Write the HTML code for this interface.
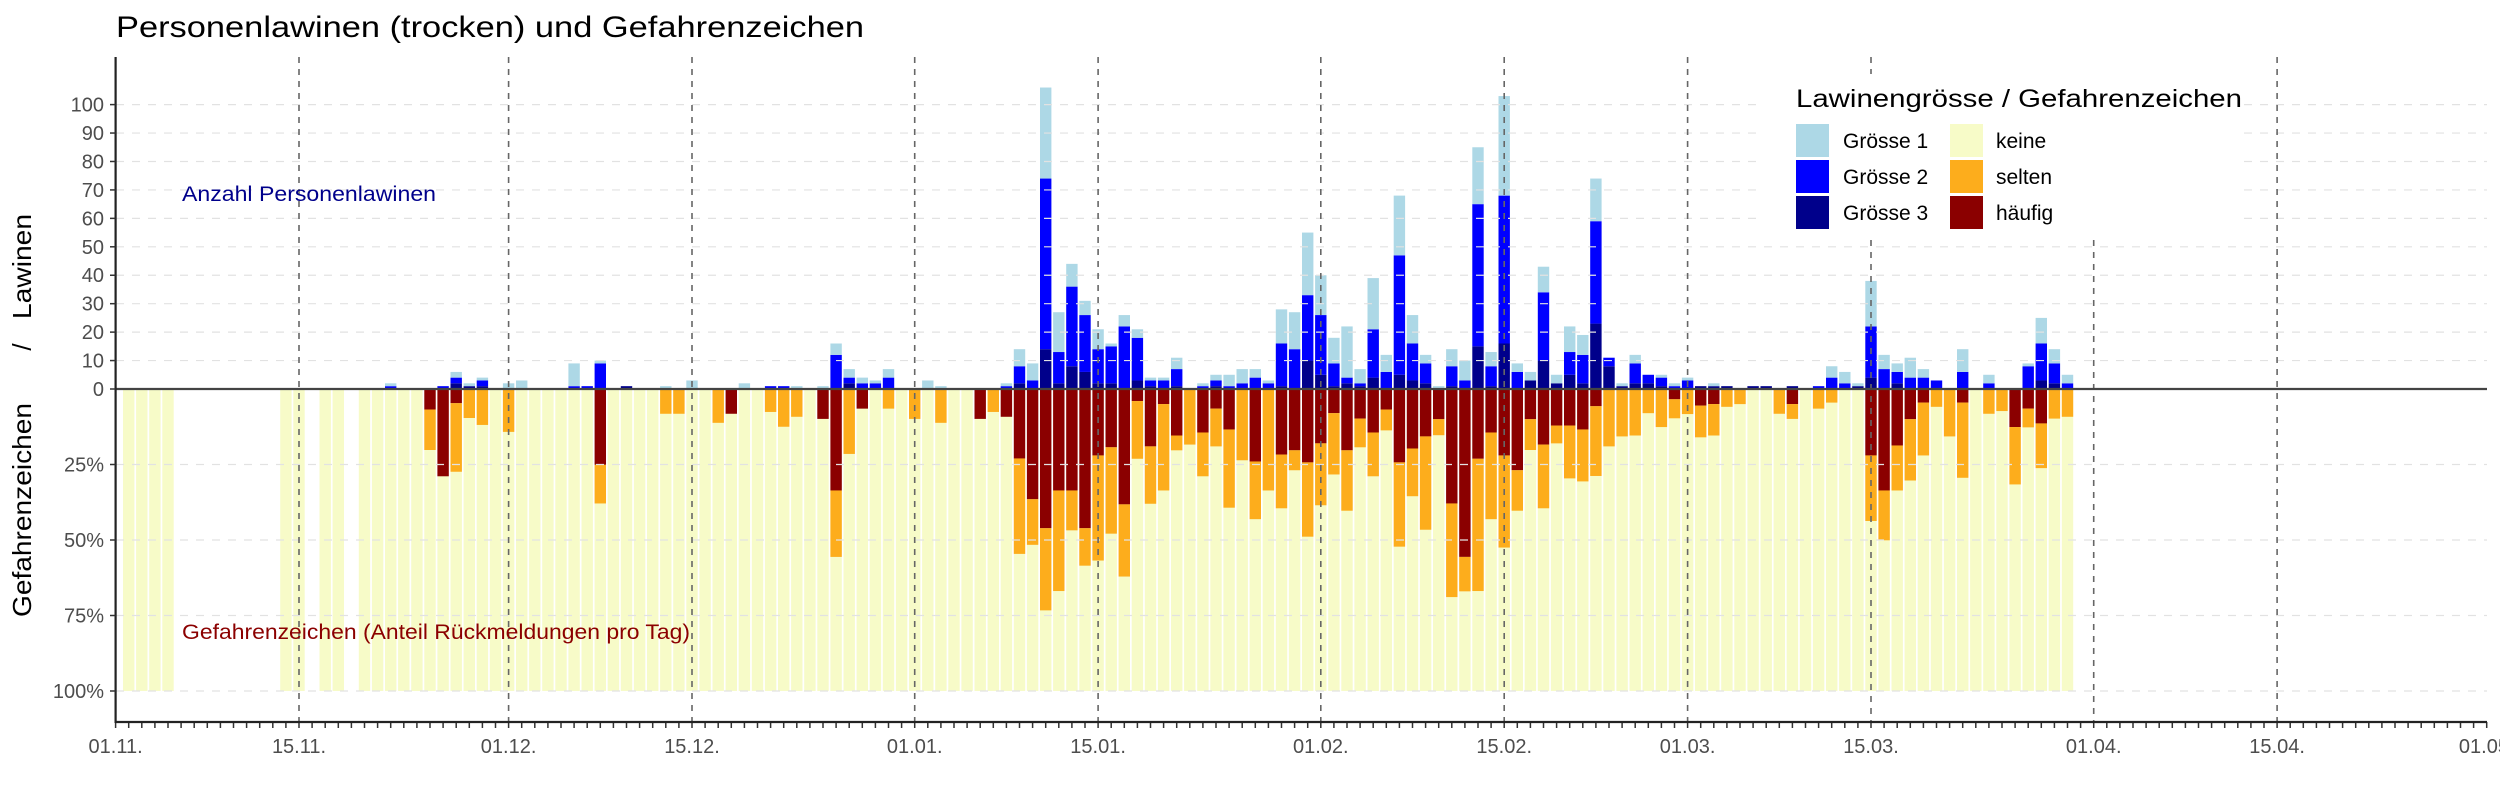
<!DOCTYPE html>
<html><head><meta charset="utf-8">
<style>html,body{margin:0;padding:0;background:#fff;}svg{display:block;}</style>
</head><body>
<svg id="c" xmlns="http://www.w3.org/2000/svg" width="2500" height="800" viewBox="0 0 2500 800" font-family="Liberation Sans, Arial, sans-serif">
<rect width="2500" height="800" fill="#fff"/>
<g id="bars"></g>
<g id="grid"></g>
<rect x="1762" y="74" width="481" height="166" fill="#fff"/>
<g id="axes"></g>
<text x="116" y="37" font-size="30" fill="#000" textLength="748" lengthAdjust="spacingAndGlyphs">Personenlawinen (trocken) und Gefahrenzeichen</text>
<text x="182" y="201" font-size="21" fill="#00008B" textLength="254" lengthAdjust="spacingAndGlyphs">Anzahl Personenlawinen</text>
<text x="182" y="639" font-size="21" fill="#8B0000" textLength="508" lengthAdjust="spacingAndGlyphs">Gefahrenzeichen (Anteil Rückmeldungen pro Tag)</text>
<g transform="translate(31,0) rotate(-90)" font-size="26" fill="#000">
<text x="-617" y="0" textLength="214" lengthAdjust="spacingAndGlyphs">Gefahrenzeichen</text>
<text x="-347" y="0" text-anchor="middle">/</text>
<text x="-214" y="0" text-anchor="end" textLength="105" lengthAdjust="spacingAndGlyphs">Lawinen</text>
</g>
<text x="1796" y="107" font-size="25" fill="#000" textLength="446" lengthAdjust="spacingAndGlyphs">Lawinengrösse / Gefahrenzeichen</text>
<rect x="1796" y="124" width="33" height="33" fill="#ADD8E6"/>
<rect x="1796" y="160" width="33" height="33" fill="#0000FF"/>
<rect x="1796" y="196" width="33" height="33" fill="#00008B"/>
<rect x="1950" y="124" width="33" height="33" fill="#F7FBC8"/>
<rect x="1950" y="160" width="33" height="33" fill="#FDAD1C"/>
<rect x="1950" y="196" width="33" height="33" fill="#8B0000"/>
<g font-size="21" fill="#000">
<text x="1843" y="148">Grösse 1</text>
<text x="1843" y="184">Grösse 2</text>
<text x="1843" y="220">Grösse 3</text>
<text x="1996" y="148">keine</text>
<text x="1996" y="184">selten</text>
<text x="1996" y="220">häufig</text>
</g>
</svg>
<script>
(function(){
var NS="http://www.w3.org/2000/svg";
function el(p,t,a){var e=document.createElementNS(NS,t);for(var k in a)e.setAttribute(k,a[k]);p.appendChild(e);return e;}
var X0=115.6,DX=13.1,Z=389,VY=2.844,PY=3.02,BW=11.4;
var data={21:[0,1,1,0,0],24:[0,0,0,6.8,13.4],25:[0,1,0,28.9,0],26:[2,2,2,4.7,22.7],27:[1,0,1,0,9.6],28:[1,2,1,0,11.9],30:[0,0,2,0,14.2],31:[0,0,3,0,0],
35:[0,1,8,0,0],36:[0,1,0,0,0],37:[0,9,1,25.1,12.8],39:[1,0,0,0,0],42:[0,0,1,0,8.2],43:[0,0,0,0,8.2],44:[0,0,3,0,0],46:[0,0,0,0,11.2],47:[0,0,0,8.2,0],48:[0,0,2,0,0],
50:[0,1,0,0,7.6],51:[0,1,0,0,12.5],52:[0,0,1,0,9.2],54:[0,0,1,9.9,0],55:[0,12,4,33.6,22],56:[2,2,3,0,21.5],57:[0,2,2,6.5,0],58:[0,2,1,0,0],59:[0,4,3,0,6.5],
61:[0,0,0,0,9.9],62:[0,0,3,0,0],63:[0,0,1,0,11.2],66:[0,0,0,9.9,0],67:[0,0,0,0,7.6],68:[0,1,1,9.2,0],69:[2,6,6,23,31.6],70:[0,3,6,36.5,15.1],
71:[14,60,32,46.1,27.2],72:[2,11,14,33.6,33.3],73:[8,28,8,33.6,13.2],74:[6,20,5,46.1,12.4],75:[2,12,7,22,34.8],76:[2,13,1,19.3,28.6],77:[0,22,4,38.2,23.9],
78:[3,15,3,4,19.1],79:[1,2,1,19,19],80:[0,3,1,5,28.6],81:[1,6,4,15.4,4.9],82:[0,0,0,0,18.4],83:[0,1,1,14.4,14.5],84:[1,2,2,6.5,12.5],85:[0,1,4,13.4,25.9],
86:[0,2,5,0,23.6],87:[0,4,3,24,19.1],88:[0,2,1,0,33.6],89:[1,15,12,21.7,17.8],90:[0,14,13,20.3,6.6],91:[10,23,22,24.3,24.6],92:[5,21,14,18,20.5],
93:[1,8,9,8,20.3],94:[2,2,18,20.3,20],95:[1,1,5,9.8,9.5],96:[4,17,18,14.4,14.5],97:[0,6,6,6.8,6.9],98:[5,42,21,24.3,27.9],99:[3,13,10,19.7,15.8],
100:[2,7,3,15.7,30.9],101:[0,0,1,10,5.3],102:[1,7,6,37.9,31],103:[0,3,7,55.6,11.4],104:[15,50,20,23.1,43.8],105:[1,7,5,14.4,28.7],106:[16,52,35,22,30.5],
107:[0,6,3,26.9,13.4],108:[3,0,3,10,10.2],109:[10,24,9,18.4,21.1],110:[2,0,3,12.1,5.9],111:[5,8,9,12.1,17.5],112:[2,10,7,13.4,17.2],113:[23,36,15,5.7,23.1],
114:[8,3,0,0,19],115:[1,0,1,0,15.7],116:[2,7,3,0,15.4],117:[2,3,0,0,8],118:[1,3,1,0,12.6],119:[0,1,1,3.4,6.3],120:[0,3,1,0,8.3],121:[1,0,0,5.5,10.5],
122:[1,0,1,5,10.4],123:[1,0,0,0,5.9],124:[0,0,0,0,5],125:[1,0,0,0,0],126:[1,0,0,0,0],127:[0,0,0,0,8.2],128:[1,0,0,5,4.9],130:[0,1,0,0,6.5],
131:[0,4,4,0,4.5],132:[0,2,4,0,0],133:[1,0,1,0,0],134:[4,18,16,22,21.7],135:[0,7,5,33.6,16.5],136:[2,4,3,18.7,14.9],137:[0,4,7,10,20.3],
138:[0,4,3,4.5,17.5],139:[0,3,0,0,5.9],140:[0,0,0,0,15.7],141:[0,6,8,4.5,24.9],143:[0,2,3,0,8.2],144:[0,0,0,0,7.3],145:[0,0,0,12.6,19],
146:[0,8,1,6.5,6.2],147:[3,13,9,11.4,14.8],148:[2,7,5,0,9.8],149:[0,2,3,0,9.2]};
var days=[1,2,3,4,13,14,16,17];for(var d=19;d<=149;d++)days.push(d);
var B=document.getElementById('bars');
days.forEach(function(d){
 var x=X0+DX*d-BW/2, v=data[d]||[0,0,0,0,0];
 el(B,'rect',{x:x,y:Z,width:BW,height:100*PY,fill:'#F7FBC8'});
 var y=Z;
 if(v[3]>0){el(B,'rect',{x:x,y:y,width:BW,height:v[3]*PY,fill:'#8B0000'});y+=v[3]*PY;}
 if(v[4]>0){el(B,'rect',{x:x,y:y,width:BW,height:v[4]*PY,fill:'#FDAD1C'});}
 var cols=['#00008B','#0000FF','#ADD8E6'];y=Z;
 for(var i=0;i<3;i++){if(v[i]>0){var h=v[i]*VY;y-=h;el(B,'rect',{x:x,y:y,width:BW,height:h,fill:cols[i]});}}
});
var G=document.getElementById('grid');
for(var t=10;t<=100;t+=10){var yy=Z-t*VY;el(G,'line',{x1:116,x2:2487,y1:yy,y2:yy,stroke:'#e2e2e2','stroke-width':1.2,'stroke-dasharray':'8,8'});}
[25,50,75,100].forEach(function(p){var yy=Z+p*PY;el(G,'line',{x1:116,x2:2487,y1:yy,y2:yy,stroke:'#e2e2e2','stroke-width':1.2,'stroke-dasharray':'8,8'});});
var majors=[[0,'01.11.'],[14,'15.11.'],[30,'01.12.'],[44,'15.12.'],[61,'01.01.'],[75,'15.01.'],[92,'01.02.'],[106,'15.02.'],[120,'01.03.'],[134,'15.03.'],[151,'01.04.'],[165,'15.04.'],[181,'01.05.']];
var A=document.getElementById('axes');
majors.forEach(function(m,i){var x=X0+DX*m[0];
 if(i>0&&i<12){
  if(i==10){el(A,'line',{x1:x,x2:x,y1:240,y2:722,stroke:'#666','stroke-width':1.6,'stroke-dasharray':'6,6'});}
  else if(i==9){el(A,'line',{x1:x,x2:x,y1:57,y2:74,stroke:'#666','stroke-width':1.6,'stroke-dasharray':'6,6'});el(A,'line',{x1:x,x2:x,y1:240,y2:722,stroke:'#666','stroke-width':1.6,'stroke-dasharray':'6,6'});}
  else el(A,'line',{x1:x,x2:x,y1:57,y2:722,stroke:'#666','stroke-width':1.6,'stroke-dasharray':'6,6'});}
 var t=el(A,'text',{x:x,y:753,'font-size':20,fill:'#4d4d4d','text-anchor':'middle'});t.textContent=m[1];
});
for(var d=0;d<=181;d++){var x=X0+DX*d;el(A,'line',{x1:x,x2:x,y1:722,y2:728,stroke:'#333','stroke-width':1.5});}
el(A,'line',{x1:116,x2:2487,y1:Z,y2:Z,stroke:'#444','stroke-width':2.2});
el(A,'line',{x1:115.6,x2:115.6,y1:57,y2:723,stroke:'#222','stroke-width':2.2});
el(A,'line',{x1:115,x2:2487,y1:722,y2:722,stroke:'#222','stroke-width':2.2});
for(var t=0;t<=100;t+=10){var yy=Z-t*VY;el(A,'line',{x1:110,x2:115.6,y1:yy,y2:yy,stroke:'#333','stroke-width':1.5});
 var tx=el(A,'text',{x:104,y:yy+7,'font-size':20,fill:'#4d4d4d','text-anchor':'end'});tx.textContent=t;}
[25,50,75,100].forEach(function(p){var yy=Z+p*PY;el(A,'line',{x1:110,x2:115.6,y1:yy,y2:yy,stroke:'#333','stroke-width':1.5});
 var tx=el(A,'text',{x:104,y:yy+7,'font-size':20,fill:'#4d4d4d','text-anchor':'end'});tx.textContent=p+'%';});
})();
</script>
</body></html>
